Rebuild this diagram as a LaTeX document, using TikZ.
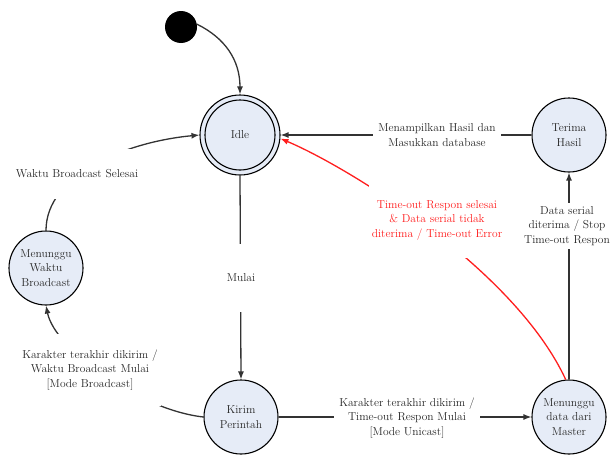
\documentclass[tikz,border=0pt]{standalone}
\usetikzlibrary{arrows.meta}
\definecolor{statefill}{RGB}{230,236,247}
\definecolor{txtgray}{RGB}{40,40,40}
\definecolor{errred}{RGB}{255,30,30}
\tikzset{
  state/.style={circle, draw=black, line width=1.1pt, fill=statefill, minimum size=74pt,
    inner sep=0pt, align=center, font=\fontsize{11.5}{14.5}\selectfont, text=txtgray},
  trans/.style={draw=black!80, line width=1.3pt, -{Latex[length=8pt,width=6pt]}},
  lbl/.style={fill=white, align=center, font=\fontsize{11.5}{14.5}\selectfont, text=txtgray, inner sep=3pt},
}
\begin{document}
\begin{tikzpicture}[x=1pt, y=-1pt]
\useasboundingbox (0,0) rectangle (610,455);
% states
\node[circle, fill=black, minimum size=32pt, inner sep=0pt] (start) at (181,27) {};
\node[state, minimum size=80pt] (idle) at (240,135) {};
\node[circle, draw=black, line width=1.1pt, minimum size=70pt, inner sep=0pt,
  font=\fontsize{11.5}{14.5}\selectfont, text=txtgray] (idlein) at (idle) {Idle};
\node[state] (terima) at (569,135) {Terima\\Hasil};
\node[state] (waktu) at (46,268) {Menunggu\\Waktu\\Broadcast};
\node[state] (kirim) at (241,417) {Kirim\\Perintah};
\node[state] (master) at (569,417) {Menunggu\\data dari\\Master};
% transitions
\draw[trans] (start.10) .. controls (225,38) and (240,60) .. (idle.north);
\draw[trans] (idle.south) -- (kirim.north);
\draw[trans] (kirim.east) -- (master.west);
\draw[trans] (master.north) -- (terima.south);
\draw[trans] (terima.west) -- (idle.east);
\draw[trans, draw=errred] (master.95) .. controls (515,270) and (350,168) .. (idle.-5);
\draw[trans] (kirim.west) .. controls (140,410) and (55,350) .. (waktu.south);
\draw[trans] (waktu.north) .. controls (46,175) and (125,142) .. (idle.west);
% labels
\node[lbl, minimum height=68pt] (lmulai) at (241,278) {Mulai};
\node[lbl, inner xsep=5pt] (lterima) at (437,135) {Menampilkan Hasil dan\\Masukkan database};
\node[lbl, inner xsep=5pt] (lunicast) at (407,418) {Karakter terakhir dikirim /\\Time-out Respon Mulai\\{[Mode Unicast]}};
\node[lbl] (ldata) at (567,226) {Data serial\\diterima / Stop\\Time-out Respon};
\node[lbl, text=errred, minimum height=75pt] (lerror) at (437,220) {Time-out Respon selesai\\\& Data serial tidak\\diterima / Time-out Error};
\node[lbl, minimum height=72pt] (lbroad) at (90,370) {Karakter terakhir dikirim /\\Waktu Broadcast Mulai\\{[Mode Broadcast]}};
\node[lbl, minimum height=50pt] (lselesai) at (77,174) {Waktu Broadcast Selesai};
\end{tikzpicture}
\end{document}
